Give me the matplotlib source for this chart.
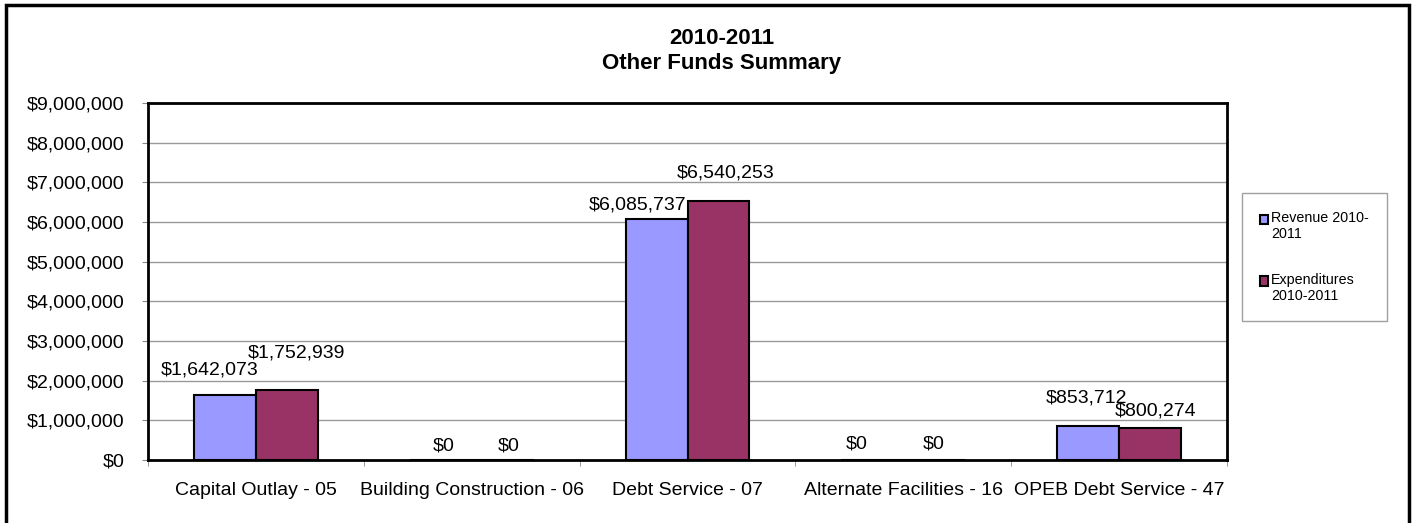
import matplotlib
matplotlib.use("Agg")
import matplotlib.pyplot as plt
import matplotlib.patches as mpatches
from matplotlib.container import BarContainer
from matplotlib.legend_handler import HandlerPatch
from matplotlib.ticker import FuncFormatter, MultipleLocator
import numpy as np

plt.rcParams['font.family'] = ['Liberation Sans', 'DejaVu Sans']

# Fund data
funds = ['Capital Outlay - 05', 'Building Construction - 06', 'Debt Service - 07',
         'Alternate Facilities - 16', 'OPEB Debt Service - 47']
revenue = [1642073, 0, 6085737, 0, 853712]
expenditures = [1752939, 0, 6540253, 0, 800274]
series_names = ['Revenue 2010-\n2011', 'Expenditures\n2010-2011']

# label nudges in pixels (x shift, gap above bar)
rev_nudge = [(-15, 20), (3, 10), (-19, 9), (-16, 12), (-2, 24)]
exp_nudge = [(10, 33), (6, 10), (7, 23), (-1, 12), (5, 13)]

W, H = 1415, 523
fig = plt.figure(figsize=(W / 100, H / 100), dpi=100)
ax = fig.add_axes([148 / W, (H - 460) / H, 1079 / W, 357 / H])

x = np.arange(len(funds))
bw = 0.287
b1 = ax.bar(x - bw / 2, revenue, bw, color='#9999FF', edgecolor='black', linewidth=1.5,
            label=series_names[0], zorder=3)
b2 = ax.bar(x + bw / 2, expenditures, bw, color='#993366', edgecolor='black', linewidth=1.5,
            label=series_names[1], zorder=3)

for bars, vals, nudge in [(b1, revenue, rev_nudge), (b2, expenditures, exp_nudge)]:
    for rect, v, (dx, dy) in zip(bars, vals, nudge):
        ax.annotate(f'${v:,.0f}', (rect.get_x() + rect.get_width() / 2, v),
                    xytext=(dx, dy), textcoords='offset pixels',
                    ha='center', va='baseline', fontsize=14, zorder=4)

ax.set_xlim(-0.5, len(funds) - 0.5)
ax.set_ylim(0, 9000000)
ax.yaxis.set_major_locator(MultipleLocator(1000000))
ax.yaxis.set_major_formatter(FuncFormatter(lambda v, p: f'${v:,.0f}'))
ax.grid(axis='y', color='#999999', linewidth=1, zorder=0)

ax.set_xticks(x)
ax.set_xticklabels(funds)
ax.set_xticks(np.arange(-0.5, len(funds)), minor=True)
ax.tick_params(axis='x', which='major', length=0, pad=16, labelsize=14)
ax.tick_params(axis='x', which='minor', length=4, color='#888888', direction='out')
ax.tick_params(axis='y', length=4, color='#888888', pad=13, labelsize=14)

for s in ax.spines.values():
    s.set_linewidth(2)
    s.set_color('black')

fig.text(722 / W, 1 - 51 / H, '2010-2011\nOther Funds Summary', ha='center', va='center',
         fontsize=16, fontweight='bold', linespacing=1.25)


# legend swatch sits level with the first line of its label
def top_swatch(legend, orig_handle, xdescent, ydescent, width, height, fontsize):
    return mpatches.Rectangle((-xdescent, -ydescent + 0.5 * fontsize), width, height)


def first_bar_style(legend_handle, orig_handle):
    legend_handle.update_from(orig_handle[0])


swatch = HandlerPatch(patch_func=top_swatch, update_func=first_bar_style)
leg = fig.legend(handles=[b1, b2], loc='upper left',
                 bbox_to_anchor=(1242 / W, 1 - 193 / H), fontsize=10.3,
                 frameon=True, fancybox=False, edgecolor='#888888',
                 handlelength=0.6, handleheight=0.6, handletextpad=0.2,
                 labelspacing=2.2, borderpad=1.25, borderaxespad=0,
                 handler_map={BarContainer: swatch})
leg.get_frame().set_linewidth(1)

# outer chart border
fig.patches.append(mpatches.Rectangle((6 / W, -0.05), 1403 / W, 1.05 - 5 / H,
                                      transform=fig.transFigure, fill=False,
                                      edgecolor='black', linewidth=2.5))

fig.savefig('out.png', dpi=100)
